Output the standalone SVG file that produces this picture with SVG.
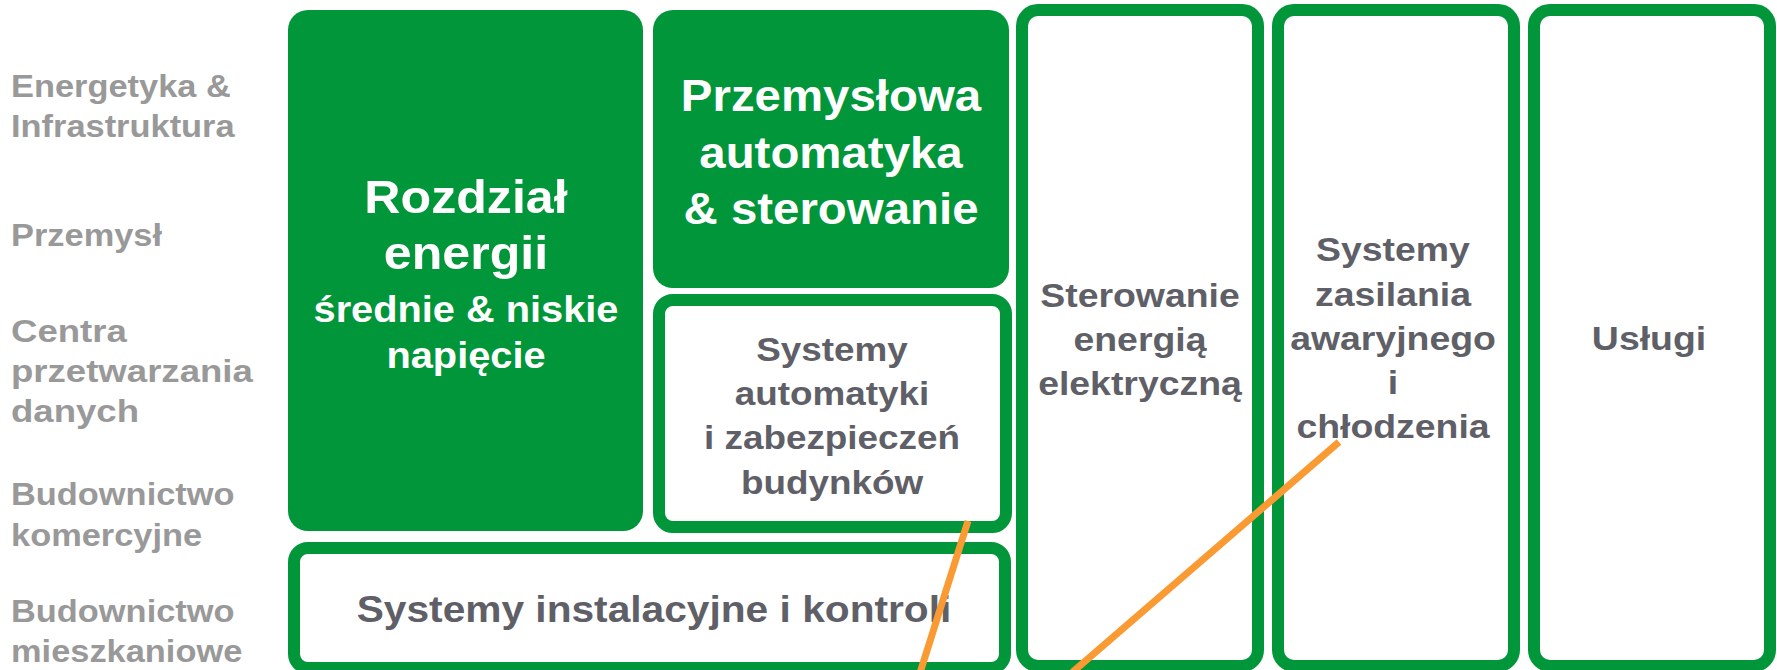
<svg xmlns="http://www.w3.org/2000/svg" width="1777" height="670" viewBox="0 0 1777 670">
<style>
text{font-family:"Liberation Sans",Arial,sans-serif;font-weight:bold;text-anchor:middle}
.lbl{fill:#999999;font-size:31px;text-anchor:start}
.fill{fill:#009639}
.box{fill:#ffffff;stroke:#009639;stroke-width:12}
.w{fill:#ffffff}
.g{fill:#5f6067}
.conn{stroke:#f99a32;stroke-width:7;fill:none;stroke-linecap:butt}
</style>
<rect width="1777" height="670" fill="#ffffff"/>
<g id="labels">
<g transform="translate(11 0) scale(1.11 1)">
<text class="lbl" x="0" y="97">Energetyka &amp;</text>
<text class="lbl" x="0" y="137">Infrastruktura</text>
<text class="lbl" x="0" y="246">Przemysł</text>
<text class="lbl" x="0" y="505">Budownictwo</text>
<text class="lbl" x="0" y="546">komercyjne</text>
<text class="lbl" x="0" y="622">Budownictwo</text>
<text class="lbl" x="0" y="662">mieszkaniowe</text>
</g>
<g transform="translate(11 0) scale(1.18 1)">
<text class="lbl" x="0" y="342">Centra</text>
<text class="lbl" x="0" y="382">przetwarzania</text>
<text class="lbl" x="0" y="422">danych</text>
</g>
</g>
<g id="rozdzial">
<rect class="fill" x="288" y="10" width="355" height="521" rx="20"/>
<g transform="translate(466 0) scale(1.09 1)">
<text class="w" x="0" y="213" font-size="46">Rozdział</text>
<text class="w" x="0" y="269" font-size="46">energii</text>
<text class="w" x="0" y="322" font-size="36.5">średnie &amp; niskie</text>
<text class="w" x="0" y="368" font-size="36.5">napięcie</text>
</g>
</g>
<g id="przemyslowa">
<rect class="fill" x="653" y="10" width="356" height="278" rx="20"/>
<g transform="translate(831 0) scale(1.09 1)">
<text class="w" x="0" y="111" font-size="43.5">Przemysłowa</text>
<text class="w" x="0" y="168" font-size="43.5">automatyka</text>
<text class="w" x="0" y="224" font-size="43.5">&amp; sterowanie</text>
</g>
</g>
<g id="automatyki">
<rect class="box" x="659" y="300" width="347" height="227" rx="14"/>
<g transform="translate(832 0) scale(1.1 1)">
<text class="g" x="0" y="361" font-size="33.5">Systemy</text>
<text class="g" x="0" y="405" font-size="33.5">automatyki</text>
<text class="g" x="0" y="449" font-size="33.5">i zabezpieczeń</text>
<text class="g" x="0" y="494" font-size="33.5">budynków</text>
</g>
</g>
<g id="instalacyjne">
<rect class="box" x="294" y="548" width="711" height="120" rx="14"/>
<g transform="translate(654 0) scale(1.1 1)">
<text class="g" x="0" y="622" font-size="37">Systemy instalacyjne i kontroli</text>
</g>
</g>
<g id="sterowanie">
<rect class="box" x="1022" y="10" width="236" height="656" rx="16"/>
<g transform="translate(1140 0) scale(1.1 1)">
<text class="g" x="0" y="307" font-size="34">Sterowanie</text>
<text class="g" x="0" y="351" font-size="34">energią</text>
<text class="g" x="0" y="395" font-size="34">elektryczną</text>
</g>
</g>
<g id="zasilanie">
<rect class="box" x="1278" y="10" width="236" height="656" rx="16"/>
<g transform="translate(1393 0) scale(1.1 1)">
<text class="g" x="0" y="261" font-size="34">Systemy</text>
<text class="g" x="0" y="306" font-size="34">zasilania</text>
<text class="g" x="0" y="350" font-size="34">awaryjnego</text>
<text class="g" x="0" y="394" font-size="34">i</text>
<text class="g" x="0" y="438" font-size="34">chłodzenia</text>
</g>
</g>
<g id="uslugi">
<rect class="box" x="1534" y="10" width="236" height="656" rx="16"/>
<g transform="translate(1649 0) scale(1.1 1)">
<text class="g" x="0" y="350" font-size="34">Usługi</text>
</g>
</g>
<g id="connectors">
<line class="conn" x1="968" y1="521" x2="919" y2="676"/>
<line class="conn" x1="1339" y1="442" x2="1068" y2="676"/>
</g>
</svg>
